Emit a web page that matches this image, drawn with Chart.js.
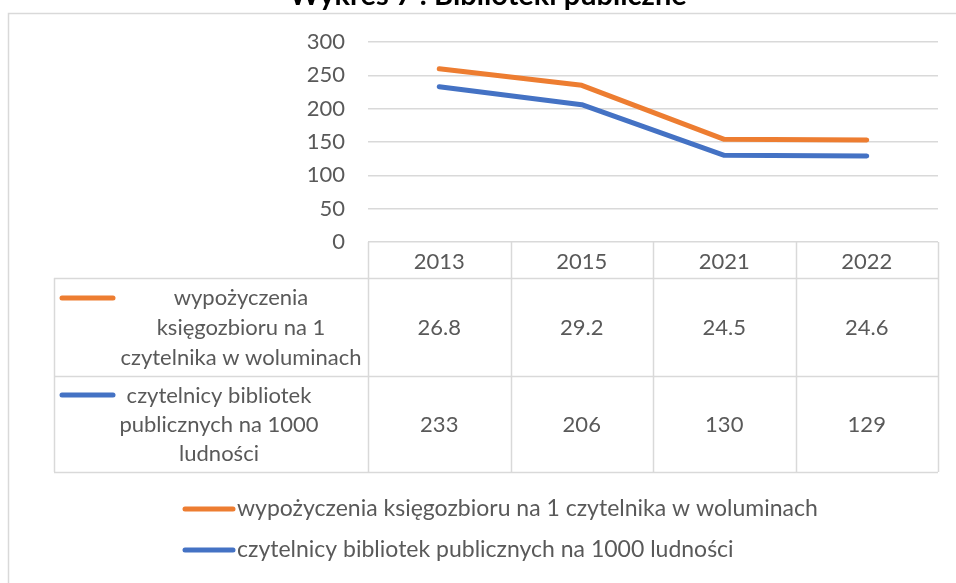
<!DOCTYPE html>
<html>
<head>
<meta charset="utf-8">
<script src="https://cdn.jsdelivr.net/npm/chart.js@4.4.1/dist/chart.umd.min.js"></script>
<style>
  html, body { margin: 0; padding: 0; background: #fff; }
  #wykres { display: block; }
</style>
</head>
<body>
<canvas id="wykres" width="956" height="583"></canvas>
<script>
// dane
const lata = ["2013", "2015", "2021", "2022"];
const wypozyczeniaLinia = [260, 235, 154, 153];
const wypozyczeniaTabela = ["26.8", "29.2", "24.5", "24.6"];
const czytelnicy = [233, 206, 130, 129];
const czytelnicyTabela = ["233", "206", "130", "129"];
const osY = [0, 50, 100, 150, 200, 250, 300];

const tytul = "Wykres 7 : Biblioteki publiczne";
const nazwaWyp = "wypożyczenia księgozbioru na 1 czytelnika w woluminach";
const nazwaCzyt = "czytelnicy bibliotek publicznych na 1000 ludności";
const nazwaWypWiersze = ["wypożyczenia", "księgozbioru na 1", "czytelnika w woluminach"];
const nazwaCzytWiersze = ["czytelnicy bibliotek", "publicznych na 1000", "ludności"];

const POMARANCZ = "#ED7D31";
const NIEBIESKI = "#4472C4";
const SZARY = "#595959";
const SIATKA = "#d9d9d9";
const FONT = "Lato, 'Liberation Sans', sans-serif";

// tabela danych i legenda pod wykresem
const tabelaPlugin = {
    id: "tabela",
    afterDraw(chart) {
        const ctx = chart.ctx;
        const x = chart.scales.x;
        const area = chart.chartArea;
        const krok = (area.right - area.left) / lata.length;
        const lewaTab = 54;
        const wiersze = [242, 278, 376, 472];

        ctx.save();
        // ramka zewnętrzna
        ctx.strokeStyle = SIATKA;
        ctx.lineWidth = 1.5;
        ctx.beginPath();
        ctx.moveTo(8.5, 583);
        ctx.lineTo(8.5, 13.5);
        ctx.lineTo(956, 13.5);
        ctx.stroke();

        // tytuł (ucięty u góry)
        ctx.fillStyle = "#000";
        ctx.font = "bold 29px " + FONT;
        ctx.textAlign = "center";
        ctx.textBaseline = "alphabetic";
        ctx.fillText(tytul, 488, 5);

        // linie tabeli
        ctx.strokeStyle = SIATKA;
        ctx.lineWidth = 1.5;
        ctx.beginPath();
        for (let i = 0; i <= lata.length; i++) {
            const px = Math.round(area.left + i * krok) + 0.5;
            ctx.moveTo(px, wiersze[0]);
            ctx.lineTo(px, wiersze[3]);
        }
        ctx.moveTo(lewaTab + 0.5, wiersze[1]);
        ctx.lineTo(lewaTab + 0.5, wiersze[3]);
        for (let j = 1; j < wiersze.length; j++) {
            ctx.moveTo(lewaTab, wiersze[j] + 0.5);
            ctx.lineTo(area.right, wiersze[j] + 0.5);
        }
        ctx.stroke();

        ctx.fillStyle = SZARY;
        ctx.font = "22px " + FONT;
        ctx.textBaseline = "middle";
        ctx.textAlign = "center";
        lata.forEach((rok, i) => {
            const px = x.getPixelForValue(i);
            ctx.fillText(rok, px, 262);
            ctx.fillText(wypozyczeniaTabela[i], px, 328);
            ctx.fillText(czytelnicyTabela[i], px, 425);
        });

        nazwaWypWiersze.forEach((t, k) => ctx.fillText(t, 241, 298 + k * 30));
        nazwaCzytWiersze.forEach((t, k) => ctx.fillText(t, 219, 396 + k * 29));

        ctx.lineCap = "round";
        ctx.lineWidth = 5;
        ctx.strokeStyle = POMARANCZ;
        ctx.beginPath(); ctx.moveTo(62, 298); ctx.lineTo(113, 298); ctx.stroke();
        ctx.strokeStyle = NIEBIESKI;
        ctx.beginPath(); ctx.moveTo(62, 395); ctx.lineTo(113, 395); ctx.stroke();

        // legenda
        ctx.strokeStyle = POMARANCZ;
        ctx.beginPath(); ctx.moveTo(185, 509); ctx.lineTo(233, 509); ctx.stroke();
        ctx.strokeStyle = NIEBIESKI;
        ctx.beginPath(); ctx.moveTo(185, 550); ctx.lineTo(233, 550); ctx.stroke();
        ctx.textAlign = "left";
        ctx.font = "23px " + FONT;
        ctx.fillText(nazwaWyp, 237, 509);
        ctx.fillText(nazwaCzyt, 237, 550);
        ctx.restore();
    }
};

function rysujWykres() {
    const ctx = document.getElementById("wykres");

    new Chart(ctx, {
        type: "line",
        data: {
            labels: lata,
            datasets: [
                {
                    label: nazwaWyp,
                    data: wypozyczeniaLinia,
                    borderColor: POMARANCZ,
                    backgroundColor: POMARANCZ,
                    borderWidth: 5,
                    pointRadius: 0,
                    borderCapStyle: "round",
                    borderJoinStyle: "round"
                },
                {
                    label: nazwaCzyt,
                    data: czytelnicy,
                    borderColor: NIEBIESKI,
                    backgroundColor: NIEBIESKI,
                    borderWidth: 5,
                    pointRadius: 0,
                    borderCapStyle: "round",
                    borderJoinStyle: "round"
                }
            ]
        },
        options: {
            responsive: false,
            devicePixelRatio: 1,
            animation: false,
            layout: { padding: { left: 0, top: 42, right: 18, bottom: 341 } },
            plugins: {
                legend: { display: false },
                tooltip: { enabled: false }
            },
            scales: {
                x: { display: false, offset: true },
                y: {
                    min: osY[0],
                    max: osY[osY.length - 1],
                    afterFit: s => { s.width = 368; },
                    afterBuildTicks: s => { s.ticks = osY.map(v => ({ value: v })); },
                    border: { display: false },
                    grid: { color: SIATKA, lineWidth: 1.5, drawTicks: false },
                    ticks: {
                        padding: 23,
                        color: SZARY,
                        font: { family: FONT, size: 22 }
                    }
                }
            }
        },
        plugins: [tabelaPlugin]
    });
}

document.addEventListener("DOMContentLoaded", () => {
    rysujWykres();
});
</script>
</body>
</html>
